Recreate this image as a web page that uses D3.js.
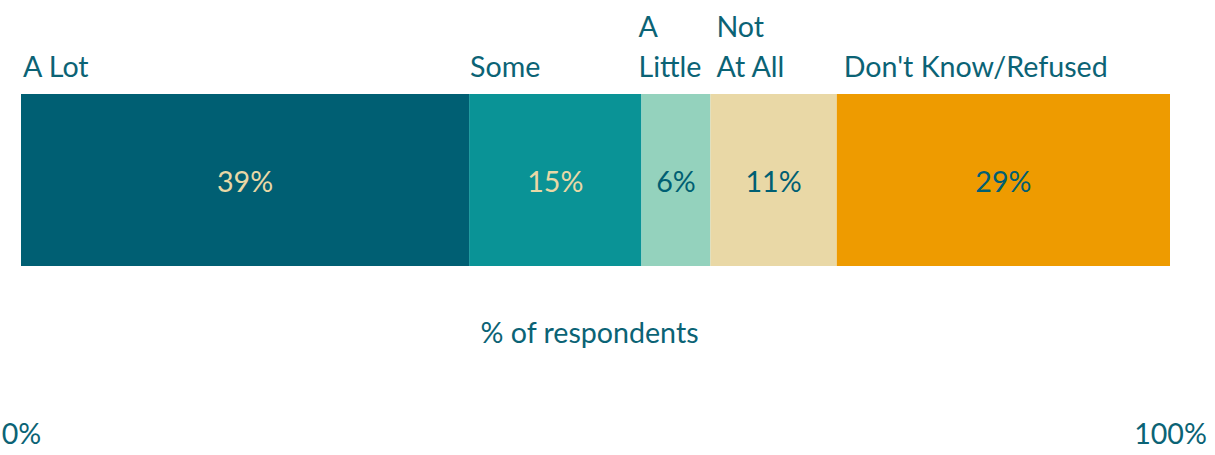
<!DOCTYPE html>
<html>
<head>
<meta charset="utf-8">
<script src="https://cdn.jsdelivr.net/npm/d3@7"></script>
<style>
  html, body { margin: 0; padding: 0; background: #ffffff; }
  svg { display: block; }
  text { font-family: "Lato", "Open Sans", sans-serif; }
</style>
</head>
<body>
<svg id="chart" width="1215" height="455"></svg>
<script>
// ---- data ----
const categories = ["A Lot", "Some", "A Little", "Not At All", "Don't Know/Refused"];
const categoryLines = [["A Lot"], ["Some"], ["A", "Little"], ["Not", "At All"], ["Don't Know/Refused"]];
const values = [39, 15, 6, 11, 29];
const tickValues = [0, 100];
const tickLabels = ["0%", "100%"];
const axisTitle = "% of respondents";

// ---- styles ----
const colors = ["#005F73", "#0A9396", "#94D2BD", "#E9D8A6", "#EE9B00"];
const valueTextColors = ["#E9D8A6", "#E9D8A6", "#005F73", "#005F73", "#005F73"];
const textColor = "#0B6375";
const labelNudge = [2, 1, -3, 6, 7];

const svg = d3.select("#chart");
const margin = { left: 21, right: 45, top: 94 };
const barHeight = 172;

const x = d3.scaleLinear().domain([0, 100]).range([margin.left, 1215 - margin.right]);

// font size fitted to reference width of longest label
const probe = svg.append("text").attr("font-size", 30).text("Don't Know/Refused");
const w = probe.node().getComputedTextLength();
probe.remove();
const fs = 30 * 264 / w;

let cum = 0;
const segs = values.map((v, i) => {
  const s = { cat: categories[i], lines: categoryLines[i], v, x0: cum, x1: cum + v, i };
  cum += v;
  return s;
});

const g = svg.append("g");
g.selectAll("rect.seg").data(segs).join("rect")
  .attr("class", "seg")
  .attr("x", d => x(d.x0))
  .attr("width", d => x(d.x1) - x(d.x0))
  .attr("y", margin.top)
  .attr("height", barHeight)
  .attr("fill", d => colors[d.i]);

// value labels
g.selectAll("text.val").data(segs).join("text")
  .attr("class", "val")
  .attr("x", d => (x(d.x0) + x(d.x1)) / 2)
  .attr("y", margin.top + 98)
  .attr("text-anchor", "middle")
  .attr("font-size", fs)
  .attr("fill", d => valueTextColors[d.i])
  .text(d => d.v + "%");

// category labels
const lineH = 40;
const cl = g.selectAll("text.cat").data(segs).join("text")
  .attr("class", "cat")
  .attr("font-size", fs)
  .attr("fill", textColor);
cl.each(function(d) {
  const t = d3.select(this);
  const n = d.lines.length;
  d.lines.forEach((ln, k) => {
    t.append("tspan")
      .attr("x", x(d.x0) + labelNudge[d.i])
      .attr("y", margin.top - 17 - (n - 1 - k) * lineH)
      .text(ln);
  });
});

// axis
const axis = d3.axisBottom(x)
  .tickValues(tickValues)
  .tickFormat((d, i) => tickLabels[i])
  .tickSize(0)
  .tickPadding(0);
const ax = svg.append("g")
  .attr("transform", "translate(0, 424)")
  .call(axis);
ax.select(".domain").remove();
ax.selectAll("text")
  .attr("font-size", fs)
  .attr("fill", textColor)
  .attr("font-family", "Lato, 'Open Sans', sans-serif");

// axis title
svg.append("text")
  .attr("x", x(50) - 6)
  .attr("y", 343)
  .attr("text-anchor", "middle")
  .attr("font-size", fs)
  .attr("fill", textColor)
  .text(axisTitle);
</script>
</body>
</html>
